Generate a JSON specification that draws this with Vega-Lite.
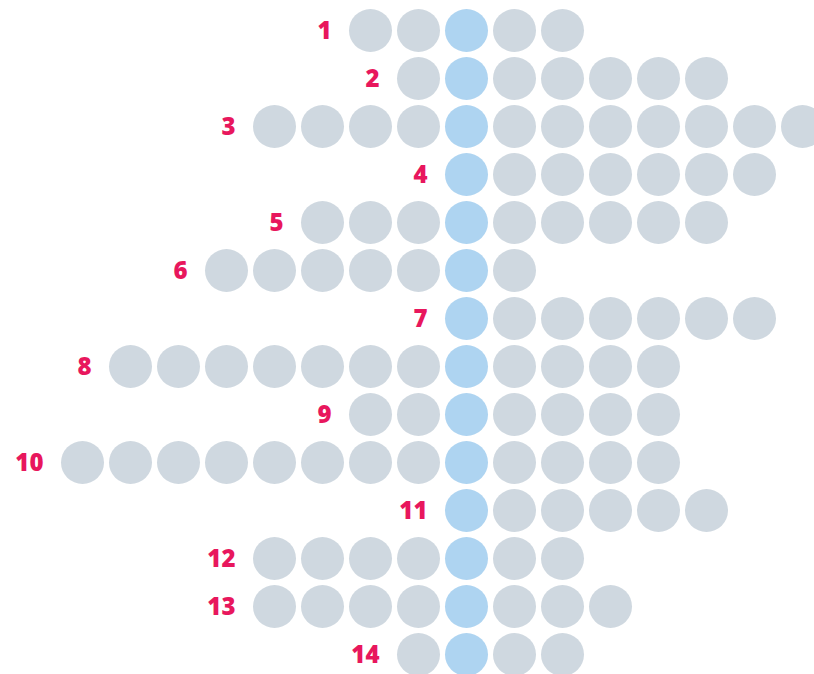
{
  "$schema": "https://vega.github.io/schema/vega-lite/v6.json",
  "width": 814,
  "height": 674,
  "padding": 0,
  "autosize": {"type": "none"},
  "background": "white",
  "config": {"view": {"stroke": null}},
  "data": {"values": [
    {"row":1,"col":-2,"kind":"other"},{"row":1,"col":-1,"kind":"other"},{"row":1,"col":0,"kind":"center"},{"row":1,"col":1,"kind":"other"},{"row":1,"col":2,"kind":"other"},
    {"row":2,"col":-1,"kind":"other"},{"row":2,"col":0,"kind":"center"},{"row":2,"col":1,"kind":"other"},{"row":2,"col":2,"kind":"other"},{"row":2,"col":3,"kind":"other"},{"row":2,"col":4,"kind":"other"},{"row":2,"col":5,"kind":"other"},
    {"row":3,"col":-4,"kind":"other"},{"row":3,"col":-3,"kind":"other"},{"row":3,"col":-2,"kind":"other"},{"row":3,"col":-1,"kind":"other"},{"row":3,"col":0,"kind":"center"},{"row":3,"col":1,"kind":"other"},{"row":3,"col":2,"kind":"other"},{"row":3,"col":3,"kind":"other"},{"row":3,"col":4,"kind":"other"},{"row":3,"col":5,"kind":"other"},{"row":3,"col":6,"kind":"other"},{"row":3,"col":7,"kind":"other"},
    {"row":4,"col":0,"kind":"center"},{"row":4,"col":1,"kind":"other"},{"row":4,"col":2,"kind":"other"},{"row":4,"col":3,"kind":"other"},{"row":4,"col":4,"kind":"other"},{"row":4,"col":5,"kind":"other"},{"row":4,"col":6,"kind":"other"},
    {"row":5,"col":-3,"kind":"other"},{"row":5,"col":-2,"kind":"other"},{"row":5,"col":-1,"kind":"other"},{"row":5,"col":0,"kind":"center"},{"row":5,"col":1,"kind":"other"},{"row":5,"col":2,"kind":"other"},{"row":5,"col":3,"kind":"other"},{"row":5,"col":4,"kind":"other"},{"row":5,"col":5,"kind":"other"},
    {"row":6,"col":-5,"kind":"other"},{"row":6,"col":-4,"kind":"other"},{"row":6,"col":-3,"kind":"other"},{"row":6,"col":-2,"kind":"other"},{"row":6,"col":-1,"kind":"other"},{"row":6,"col":0,"kind":"center"},{"row":6,"col":1,"kind":"other"},
    {"row":7,"col":0,"kind":"center"},{"row":7,"col":1,"kind":"other"},{"row":7,"col":2,"kind":"other"},{"row":7,"col":3,"kind":"other"},{"row":7,"col":4,"kind":"other"},{"row":7,"col":5,"kind":"other"},{"row":7,"col":6,"kind":"other"},
    {"row":8,"col":-7,"kind":"other"},{"row":8,"col":-6,"kind":"other"},{"row":8,"col":-5,"kind":"other"},{"row":8,"col":-4,"kind":"other"},{"row":8,"col":-3,"kind":"other"},{"row":8,"col":-2,"kind":"other"},{"row":8,"col":-1,"kind":"other"},{"row":8,"col":0,"kind":"center"},{"row":8,"col":1,"kind":"other"},{"row":8,"col":2,"kind":"other"},{"row":8,"col":3,"kind":"other"},{"row":8,"col":4,"kind":"other"},
    {"row":9,"col":-2,"kind":"other"},{"row":9,"col":-1,"kind":"other"},{"row":9,"col":0,"kind":"center"},{"row":9,"col":1,"kind":"other"},{"row":9,"col":2,"kind":"other"},{"row":9,"col":3,"kind":"other"},{"row":9,"col":4,"kind":"other"},
    {"row":10,"col":-8,"kind":"other"},{"row":10,"col":-7,"kind":"other"},{"row":10,"col":-6,"kind":"other"},{"row":10,"col":-5,"kind":"other"},{"row":10,"col":-4,"kind":"other"},{"row":10,"col":-3,"kind":"other"},{"row":10,"col":-2,"kind":"other"},{"row":10,"col":-1,"kind":"other"},{"row":10,"col":0,"kind":"center"},{"row":10,"col":1,"kind":"other"},{"row":10,"col":2,"kind":"other"},{"row":10,"col":3,"kind":"other"},{"row":10,"col":4,"kind":"other"},
    {"row":11,"col":0,"kind":"center"},{"row":11,"col":1,"kind":"other"},{"row":11,"col":2,"kind":"other"},{"row":11,"col":3,"kind":"other"},{"row":11,"col":4,"kind":"other"},{"row":11,"col":5,"kind":"other"},
    {"row":12,"col":-4,"kind":"other"},{"row":12,"col":-3,"kind":"other"},{"row":12,"col":-2,"kind":"other"},{"row":12,"col":-1,"kind":"other"},{"row":12,"col":0,"kind":"center"},{"row":12,"col":1,"kind":"other"},{"row":12,"col":2,"kind":"other"},
    {"row":13,"col":-4,"kind":"other"},{"row":13,"col":-3,"kind":"other"},{"row":13,"col":-2,"kind":"other"},{"row":13,"col":-1,"kind":"other"},{"row":13,"col":0,"kind":"center"},{"row":13,"col":1,"kind":"other"},{"row":13,"col":2,"kind":"other"},{"row":13,"col":3,"kind":"other"},
    {"row":14,"col":-1,"kind":"other"},{"row":14,"col":0,"kind":"center"},{"row":14,"col":1,"kind":"other"},{"row":14,"col":2,"kind":"other"}
  ]},
  "layer": [
    {
      "mark": {"type": "circle", "size": 1849, "opacity": 1, "clip": false},
      "encoding": {
        "x": {"field": "col", "type": "quantitative", "scale": {"domain": [-9.71875, 7.2396], "nice": false, "zero": false}, "axis": null},
        "y": {"field": "row", "type": "quantitative", "scale": {"domain": [0.36458, 14.40625], "reverse": true, "nice": false, "zero": false}, "axis": null},
        "color": {"field": "kind", "type": "nominal", "scale": {"domain": ["center", "other"], "range": ["#aed4f1", "#cfd8e0"]}, "legend": null}
      }
    },
    {
      "mark": {"type": "text", "align": "right", "baseline": "middle", "dx": -39, "dy": 1, "font": "Open Sans", "fontWeight": 800, "fontSize": 24, "color": "#e8175d"},
      "encoding": {
        "x": {"aggregate": "min", "field": "col", "type": "quantitative", "scale": {"domain": [-9.71875, 7.2396], "nice": false, "zero": false}, "axis": null},
        "y": {"field": "row", "type": "quantitative", "scale": {"domain": [0.36458, 14.40625], "reverse": true, "nice": false, "zero": false}, "axis": null},
        "text": {"field": "row", "type": "nominal"}
      }
    }
  ]
}
